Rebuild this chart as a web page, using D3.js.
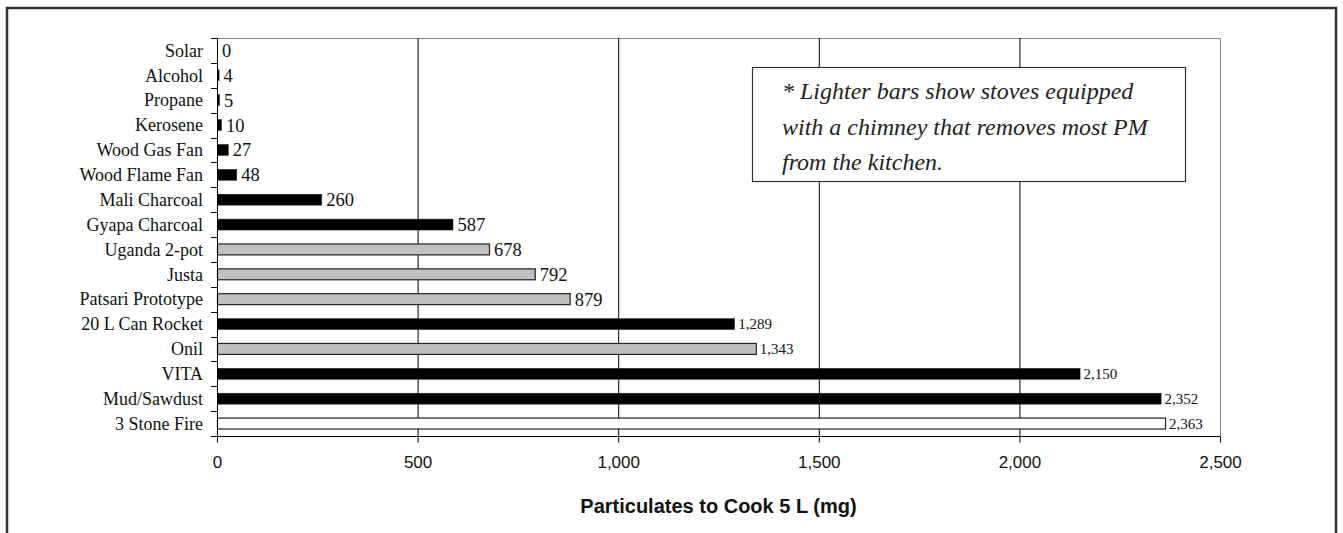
<!DOCTYPE html>
<html>
<head>
<meta charset="utf-8">
<script src="https://cdn.jsdelivr.net/npm/d3@7"></script>
<style>
html,body{margin:0;padding:0;background:#fff;}
svg{display:block;}
</style>
</head>
<body>
<svg id="chart" width="1343" height="533"></svg>
<script>
const categories = ["Solar","Alcohol","Propane","Kerosene","Wood Gas Fan","Wood Flame Fan","Mali Charcoal","Gyapa Charcoal","Uganda 2-pot","Justa","Patsari Prototype","20 L Can Rocket","Onil","VITA","Mud/Sawdust","3 Stone Fire"];
const values = [0,4,5,10,27,48,260,587,678,792,879,1289,1343,2150,2352,2363];
// stove type: "plain" = no chimney (dark), "chimney" = lighter bars, "open" = open fire
const stoveTypes = ["plain","plain","plain","plain","plain","plain","plain","plain","chimney","chimney","chimney","plain","chimney","plain","plain","open"];
const xTicks = [0,500,1000,1500,2000,2500];
const xTitle = "Particulates to Cook 5 L (mg)";
const noteLines = ["* Lighter bars show stoves equipped","with a chimney that removes most PM","from the kitchen."];

const svg = d3.select("#chart");
const m = {left:217, right:1220, top:38, bottom:436};
const serif = "'Liberation Serif','Times New Roman',serif";
const sans = "Arial,'Liberation Sans',sans-serif";

// outer frame
svg.append("rect").attr("x",7).attr("y",8).attr("width",1329).attr("height",540)
  .attr("fill","none").attr("stroke","#333").attr("stroke-width",2.5);

const x = d3.scaleLinear().domain([0,2500]).range([m.left,m.right]);
const y = d3.scaleBand().domain(categories).range([m.top,m.bottom]).paddingInner(0.56).paddingOuter(0.28);
const yb = d3.scaleBand().domain(categories).range([m.top,m.bottom]);

const fillMap = {plain:"#000", chimney:"#c0c0c0", open:"#fff"};

// plot area border (top & right, gray)
svg.append("path").attr("d",`M${m.left},${m.top+0.5}H${m.right+0.5}V${m.bottom}`)
  .attr("fill","none").attr("stroke","#888").attr("stroke-width",1);

// gridlines
svg.append("g").selectAll("line").data(xTicks.filter(t=>t>0 && t<2500)).join("line")
  .attr("x1",d=>x(d)+0.5).attr("x2",d=>x(d)+0.5).attr("y1",m.top).attr("y2",m.bottom)
  .attr("stroke","#000").attr("stroke-width",1);

// bars
svg.append("g").selectAll("rect").data(categories).join("rect")
  .attr("x",m.left+0.5)
  .attr("y",d=>y(d))
  .attr("width",(d,i)=>Math.max(0,x(values[i])-m.left))
  .attr("height",y.bandwidth())
  .attr("fill",(d,i)=>fillMap[stoveTypes[i]])
  .attr("stroke",(d,i)=>values[i]>0?"#222":"none")
  .attr("stroke-width",(d,i)=>stoveTypes[i]==="plain"?0.5:1.2);

// value labels
const fmt = d3.format(",");
svg.append("g").selectAll("text").data(categories).join("text")
  .attr("x",(d,i)=>x(values[i])+ (values[i]>=1000?4:5))
  .attr("y",d=>yb(d)+yb.bandwidth()/2)
  .attr("dy","0.35em")
  .attr("font-family",serif)
  .attr("font-size",(d,i)=>values[i]>=1000?"15px":"18.5px")
  .attr("fill","#111")
  .text((d,i)=>fmt(values[i]));

// y axis
const yAxis = svg.append("g").attr("transform",`translate(${m.left},0)`);
yAxis.append("line").attr("x1",0.5).attr("x2",0.5).attr("y1",m.top).attr("y2",m.bottom+6).attr("stroke","#000");
yAxis.selectAll("line.tk").data(d3.range(categories.length+1)).join("line").attr("class","tk")
  .attr("x1",-6).attr("x2",0.5)
  .attr("y1",i=>Math.round(m.top+i*yb.step())+0.5).attr("y2",i=>Math.round(m.top+i*yb.step())+0.5)
  .attr("stroke","#000");
yAxis.selectAll("text").data(categories).join("text")
  .attr("x",-14).attr("y",d=>yb(d)+yb.bandwidth()/2).attr("dy","0.35em")
  .attr("text-anchor","end")
  .attr("font-family",serif)
  .attr("font-size","18px").attr("fill","#111")
  .text(d=>d);

// x axis
const xAxis = d3.axisBottom(x).tickValues(xTicks).tickFormat(d3.format(",")).tickSize(6).tickSizeOuter(0);
const gx = svg.append("g").attr("transform",`translate(0,${m.bottom+0.5})`).call(xAxis);
gx.select(".domain").attr("d",`M${m.left-6},0H${m.right}`).attr("stroke","#000");
gx.selectAll(".tick line").attr("stroke","#000");
gx.selectAll(".tick text").attr("y",31.5).attr("dy",0).attr("font-family",sans).attr("font-size","17px").attr("fill","#111");

svg.append("text").attr("x",(m.left+m.right)/2).attr("y",513)
  .attr("text-anchor","middle").attr("font-family",sans)
  .attr("font-weight","bold").attr("font-size","20px").attr("fill","#111")
  .text(xTitle);

// annotation box
svg.append("rect").attr("x",752.5).attr("y",67.5).attr("width",433).attr("height",114)
  .attr("fill","#fff").attr("stroke","#333").attr("stroke-width",1.2);
svg.append("g").selectAll("text").data(noteLines).join("text")
  .attr("x",782).attr("y",(d,i)=>99+i*35.5)
  .attr("font-family",serif)
  .attr("font-style","italic").attr("font-size","24px").attr("fill","#222")
  .text(d=>d);
</script>
</body>
</html>
